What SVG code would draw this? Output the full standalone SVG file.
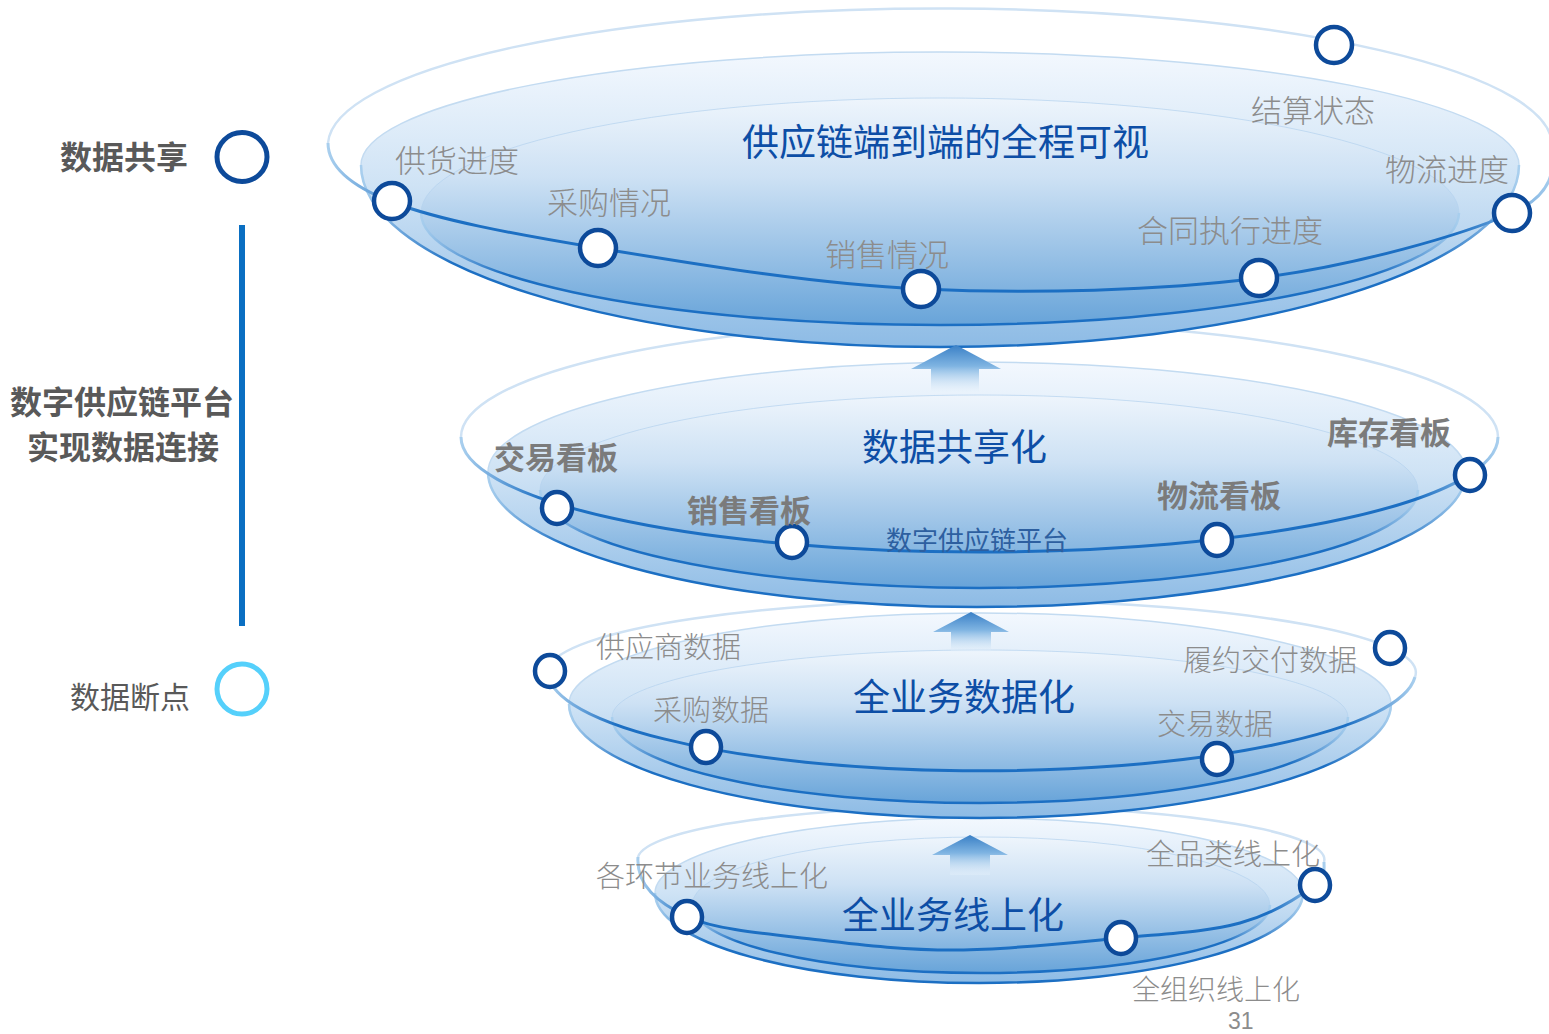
<svg xmlns="http://www.w3.org/2000/svg" width="1549" height="1034" viewBox="0 0 1549 1034">
<defs>
<linearGradient id="gOuter" x1="0" y1="0" x2="0" y2="1">
<stop offset="0" stop-color="#f3f8fe"/>
<stop offset="0.45" stop-color="#cfe3f5"/>
<stop offset="1" stop-color="#8dbbe5"/>
</linearGradient>
<linearGradient id="gInner" x1="0" y1="0" x2="0" y2="1">
<stop offset="0" stop-color="#eef5fc"/>
<stop offset="0.35" stop-color="#cde1f4"/>
<stop offset="1" stop-color="#68a4d9"/>
</linearGradient>
<linearGradient id="gEdge" x1="0" y1="0" x2="1" y2="0">
<stop offset="0" stop-color="#a9cfee"/>
<stop offset="0.08" stop-color="#1c6fc3"/>
<stop offset="0.92" stop-color="#1c6fc3"/>
<stop offset="1" stop-color="#a9cfee"/>
</linearGradient>
<linearGradient id="gArrow" x1="0" y1="0" x2="0" y2="1">
<stop offset="0" stop-color="#3a80c6"/>
<stop offset="0.45" stop-color="#7fb4e2"/>
<stop offset="1" stop-color="#e9f3fc" stop-opacity="0.3"/>
</linearGradient>
</defs>
<style>
.back{fill:none;stroke:#cfe2f4;stroke-width:2.5}
.front{fill:none;stroke:url(#gEdge);stroke-width:3}
.outer{fill:url(#gOuter);stroke:#c3dbf1;stroke-width:1.5}
.inner{fill:url(#gInner);stroke:#b4d2ee;stroke-width:1;stroke-opacity:0.7}
.edge{fill:none;stroke:url(#gEdge);stroke-width:2.5}
.dot{fill:#ffffff;stroke:#0d4a9a;stroke-width:4.5}
.arrow{fill:url(#gArrow)}
text{font-family:"Noto Sans CJK SC","Noto Sans",sans-serif;dominant-baseline:central}
.lbl{fill:#8c8c8c;font-size:29px;font-weight:300}
.lbl1{fill:#8c8c8c;font-size:31px;font-weight:300}
.lbl2{fill:#7b7b7b;font-size:31px;font-weight:bold}
.ttl{fill:#0d4ea6;font-size:37px}
.side{fill:#595959;font-size:32px;font-weight:bold}
</style>
<rect width="1549" height="1034" fill="#ffffff"/>

<g id="layer4">
<path class="back" d="M638,857 A343,53 0 0 1 1324,862"/>
<path class="outer" d="M655,893 A324,75 0 0 1 1303,893 A324,90 0 0 1 655,893 Z"/>
<path class="edge" d="M655,893 A324,90 0 0 0 1303,893"/>
<path class="inner" d="M692,905 A289,68 0 0 1 1270,905 A289,68 0 0 1 692,905 Z"/>
<path class="edge" d="M692,905 A289,68 0 0 0 1270,905"/>
<path class="front" d="M638,857 C636,885 657.7,903.2 688,917 C718.3,930.8 775,934.5 820,940 C865,945.5 907.8,950.3 958,950 C1008.2,949.7 1074,942.5 1121,938 C1168,933.5 1207.7,931.8 1240,923 C1272.3,914.2 1301.3,895.2 1315,885 C1326,876 1324,870 1324,862"/>
</g>

<g id="layer3">
<path class="back" d="M548,668 A434,72 0 0 1 1415,677"/>
<path class="outer" d="M569,704 A411,91 0 0 1 1391,704 A411,114 0 0 1 569,704 Z"/>
<path class="edge" d="M569,704 A411,114 0 0 0 1391,704"/>
<path class="inner" d="M612,717 A368,67 0 0 1 1348,717 A368,86 0 0 1 612,717 Z"/>
<path class="edge" d="M612,717 A368,86 0 0 0 1348,717"/>
<path class="front" d="M1415,677 A434,100 0 0 1 548,668"/>
</g>

<g id="layer2">
<path class="back" d="M461,437 A518.5,115 0 0 1 1498,437"/>
<path class="outer" d="M488,472 A489,110 0 0 1 1466,472 A489,135 0 0 1 488,472 Z"/>
<path class="edge" d="M488,472 A489,135 0 0 0 1466,472"/>
<path class="inner" d="M540,490 A439,95 0 0 1 1418,490 A439,98 0 0 1 540,490 Z"/>
<path class="edge" d="M540,490 A439,98 0 0 0 1418,490"/>
<path class="front" d="M1498,437 A518.5,115 0 0 1 461,437"/>
</g>

<g id="layer1">
<path class="back" d="M328,143 A612,137 0 0 1 1552,148"/>
<path class="outer" d="M361,165 A579,113 0 0 1 1519,165 A579,182 0 0 1 361,165 Z"/>
<path class="edge" d="M361,165 A579,182 0 0 0 1519,165"/>
<path class="inner" d="M421,213 A519,115 0 0 1 1459,213 A519,112 0 0 1 421,213 Z"/>
<path class="edge" d="M421,213 A519,112 0 0 0 1459,213"/>
<path class="front" d="M328,143 C328,165 347,184.5 392,202 C437,219.5 509.8,233.5 598,248 C686.2,262.5 810.8,284 921,289 C1031.2,294 1160.5,290.7 1259,278 C1357.5,265.3 1463.2,234.7 1512,213 C1560.8,191.3 1552,160 1552,148"/>
</g>

<g id="connectors">
<polygon class="arrow" points="956,345 1001,369 979,369 979,392 931,392 931,369 911,369"/>
<polygon class="arrow" points="971,612 1009,632 991,632 991,652 951,652 951,632 933,632"/>
<polygon class="arrow" points="970,835 1008,855 990,855 990,875 950,875 950,855 932,855"/>
</g>

<g id="dots1">
<circle class="dot" cx="1334" cy="45" r="18"/>
<circle class="dot" cx="392" cy="201" r="18"/>
<circle class="dot" cx="598" cy="248" r="18"/>
<circle class="dot" cx="921" cy="289" r="18"/>
<circle class="dot" cx="1259" cy="278" r="18"/>
<circle class="dot" cx="1512" cy="213" r="18"/>
</g>
<g id="dots2">
<ellipse class="dot" cx="557" cy="508" rx="15" ry="16"/>
<ellipse class="dot" cx="792" cy="542" rx="15" ry="16"/>
<ellipse class="dot" cx="1217" cy="540" rx="15" ry="16"/>
<ellipse class="dot" cx="1470" cy="475" rx="15" ry="16"/>
</g>
<g id="dots3">
<ellipse class="dot" cx="550" cy="671" rx="15" ry="16"/>
<ellipse class="dot" cx="706" cy="747" rx="15" ry="16"/>
<ellipse class="dot" cx="1217" cy="759" rx="15" ry="16"/>
<ellipse class="dot" cx="1390" cy="648" rx="15" ry="16"/>
</g>
<g id="dots4">
<ellipse class="dot" cx="687" cy="917" rx="15" ry="16"/>
<ellipse class="dot" cx="1121" cy="938" rx="15" ry="16"/>
<ellipse class="dot" cx="1315" cy="885" rx="15" ry="16"/>
</g>

<g id="labels1">
<text class="ttl" x="742" y="140">供应链端到端的全程可视</text>
<text class="lbl1" x="395" y="158">供货进度</text>
<text class="lbl1" x="547" y="200">采购情况</text>
<text class="lbl1" x="825" y="252">销售情况</text>
<text class="lbl1" x="1137" y="228">合同执行进度</text>
<text class="lbl1" x="1251" y="108">结算状态</text>
<text class="lbl1" x="1385" y="167">物流进度</text>
</g>
<g id="labels2">
<text class="ttl" x="862" y="445">数据共享化</text>
<text class="lbl2" x="494" y="455">交易看板</text>
<text class="lbl2" x="687" y="508">销售看板</text>
<text class="lbl2" x="1157" y="493">物流看板</text>
<text class="lbl2" x="1327" y="430">库存看板</text>
<text x="886" y="538" fill="#2d5fa0" font-size="26">数字供应链平台</text>
</g>
<g id="labels3">
<text class="ttl" x="853" y="695">全业务数据化</text>
<text class="lbl" x="596" y="645">供应商数据</text>
<text class="lbl" x="1183" y="658">履约交付数据</text>
<text class="lbl" x="653" y="708">采购数据</text>
<text class="lbl" x="1157" y="722">交易数据</text>
</g>
<g id="labels4">
<text class="ttl" x="842" y="913">全业务线上化</text>
<text class="lbl" x="596" y="874">各环节业务线上化</text>
<text class="lbl" x="1146" y="852">全品类线上化</text>
<text class="lbl" x="1132" y="988" style="font-size:28px">全组织线上化</text>
<text x="1228" y="1029" fill="#8c8c8c" font-size="23" style="font-family:'Liberation Sans',sans-serif;dominant-baseline:auto">31</text>
</g>

<g id="legend">
<text class="side" x="60" y="155">数据共享</text>
<ellipse cx="242" cy="157" rx="25" ry="24.5" fill="none" stroke="#0d4a9a" stroke-width="5"/>
<line x1="242" y1="225" x2="242" y2="626" stroke="#0a6fc2" stroke-width="6"/>
<text class="side" x="10" y="400">数字供应链平台</text>
<text class="side" x="27" y="445">实现数据连接</text>
<text x="70" y="695" fill="#595959" font-size="30">数据断点</text>
<ellipse cx="242" cy="689" rx="25" ry="25" fill="none" stroke="#55d0fb" stroke-width="5"/>
</g>
</svg>
